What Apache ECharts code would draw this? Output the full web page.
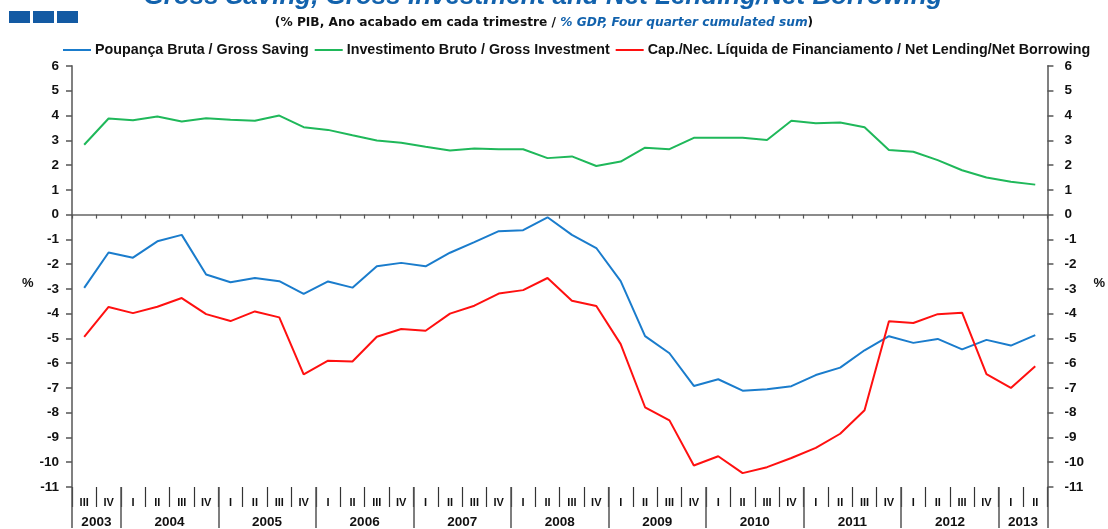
<!DOCTYPE html>
<html>
<head>
<meta charset="utf-8">
<script src="https://cdn.jsdelivr.net/npm/echarts@6/dist/echarts.min.js"></script>
<style>
  html, body { margin: 0; padding: 0; background: #fff; }
  #chart { width: 1108px; height: 529px; }
</style>
</head>
<body>
<div id="chart"></div>
<script>
// Quarterly labels, 2003 Q3 .. 2013 Q2
const quarterLabels = [
  'III','IV',
  'I','II','III','IV', 'I','II','III','IV', 'I','II','III','IV',
  'I','II','III','IV', 'I','II','III','IV', 'I','II','III','IV',
  'I','II','III','IV', 'I','II','III','IV', 'I','II','III','IV',
  'I','II'
];
// Years and how many quarters of each are shown
const yearNames = ['2003','2004','2005','2006','2007','2008','2009','2010','2011','2012','2013'];
const yearQuarterCounts = [2,4,4,4,4,4,4,4,4,4,2];

// % of GDP, four-quarter cumulated sum
const grossSaving = [
  -2.96,-1.53,-1.74,-1.08,-0.82,-2.42,-2.73,-2.56,-2.69,-3.20,
  -2.70,-2.95,-2.09,-1.95,-2.09,-1.54,-1.11,-0.67,-0.63,-0.11,
  -0.82,-1.35,-2.69,-4.91,-5.60,-6.92,-6.65,-7.11,-7.05,-6.93,
  -6.48,-6.18,-5.48,-4.91,-5.18,-5.02,-5.44,-5.06,-5.29,-4.87
];
const grossInvestment = [
  2.82,3.88,3.81,3.96,3.76,3.89,3.83,3.79,4.00,3.53,
  3.42,3.20,2.99,2.90,2.74,2.59,2.67,2.64,2.64,2.28,
  2.35,1.96,2.14,2.70,2.64,3.10,3.10,3.10,3.01,3.79,
  3.69,3.72,3.53,2.61,2.54,2.20,1.79,1.50,1.33,1.21
];
const netLending = [
  -4.94,-3.73,-3.98,-3.72,-3.37,-4.02,-4.30,-3.91,-4.15,-6.45,
  -5.90,-5.93,-4.93,-4.62,-4.69,-4.00,-3.68,-3.19,-3.05,-2.56,
  -3.48,-3.69,-5.23,-7.78,-8.31,-10.13,-9.76,-10.44,-10.20,-9.83,
  -9.42,-8.85,-7.90,-4.31,-4.38,-4.02,-3.96,-6.44,-7.00,-6.12
];

const seriesNames = [
  'Poupança Bruta / Gross Saving',
  'Investimento Bruto / Gross Investment',
  'Cap./Nec. Líquida de Financiamento / Net Lending/Net Borrowing'
];
const seriesColors = ['#1a7ccc', '#1fb85a', '#ff1010'];

// Boundary axis (one slot per quarter edge) used for year labels and year separators
const nQ = quarterLabels.length;
const boundarySlots = new Array(nQ + 1).fill('');
const yearStartEdges = new Set([nQ]);
let edge = 0;
yearNames.forEach((y, k) => {
  yearStartEdges.add(edge);
  boundarySlots[edge + yearQuarterCounts[k] / 2] = y;
  edge += yearQuarterCounts[k];
});

const FONT = 'Liberation Sans, Arial, sans-serif';
const WIDE = 'DejaVu Sans, Liberation Sans, sans-serif';
const axisGray = '#808080';

const chart = echarts.init(document.getElementById('chart'), null, { renderer: 'canvas' });

const valueAxisBase = {
  type: 'value',
  min: -11, max: 6, interval: 1,
  splitLine: { show: false },
  axisLine: { show: true, lineStyle: { color: axisGray, width: 2 } },
  axisTick: { show: true, length: 6, lineStyle: { color: '#555', width: 1.5 } },
  axisLabel: { color: '#111', fontFamily: FONT, fontWeight: 'bold', fontSize: 13.5 },
  name: '%',
  nameLocation: 'middle',
  nameRotate: 0,
  nameTextStyle: { color: '#111', fontFamily: FONT, fontWeight: 'bold', fontSize: 13, verticalAlign: 'top' }
};

chart.setOption({
  animation: false,
  backgroundColor: '#fff',
  title: [
    {
      text: 'Gross Saving, Gross Investment and Net Lending/Net Borrowing',
      left: 538, textAlign: 'center', top: -21,
      textStyle: { color: '#1262ad', fontFamily: FONT, fontWeight: 'bold', fontStyle: 'italic', fontSize: 26 }
    },
    {
      text: '{a|(% PIB, Ano acabado em cada trimestre / }{b|% GDP, Four quarter cumulated sum}{a|)}',
      left: 539, textAlign: 'center', top: 12,
      textStyle: {
        rich: {
          a: { color: '#111', fontFamily: WIDE, fontWeight: 'bold', fontSize: 12.2 },
          b: { color: '#1262ad', fontFamily: WIDE, fontWeight: 'bold', fontStyle: 'italic', fontSize: 12.2 }
        }
      }
    }
  ],
  graphic: [
    { type: 'rect', shape: { x: 9, y: 11, width: 21, height: 12 }, style: { fill: '#135aa3' } },
    { type: 'rect', shape: { x: 33, y: 11, width: 21, height: 12 }, style: { fill: '#135aa3' } },
    { type: 'rect', shape: { x: 57, y: 11, width: 21, height: 12 }, style: { fill: '#135aa3' } }
  ],
  legend: {
    top: 38, left: 58,
    itemWidth: 28, itemHeight: 2, itemGap: 6,
    icon: 'rect',
    textStyle: { color: '#111', fontFamily: FONT, fontWeight: 'bold', fontSize: 14.3, padding: [0, 0, 0, -1] },
    data: seriesNames
  },
  grid: { left: 72, right: 52, top: 66, bottom: 41, containLabel: false },
  xAxis: [
    {
      // zero line with quarter ticks
      type: 'category', data: quarterLabels, position: 'bottom',
      boundaryGap: true,
      axisLine: { show: true, onZero: true, lineStyle: { color: '#666', width: 1.5 } },
      axisTick: { show: true, interval: 0, length: 4, lineStyle: { color: '#555', width: 1.2 } },
      axisLabel: { show: false },
      splitLine: { show: false }
    },
    {
      // quarter row
      type: 'category', data: quarterLabels, position: 'bottom', offset: 0,
      boundaryGap: true,
      axisLine: { show: false, onZero: false },
      axisTick: { show: true, interval: 0, length: 20, lineStyle: { color: '#333', width: 1.2 } },
      axisLabel: { show: true, interval: 0, margin: 10, color: '#111', fontFamily: FONT, fontWeight: 'bold', fontSize: 11 },
      splitLine: { show: false }
    },
    {
      // year row
      type: 'category', data: boundarySlots, position: 'bottom', offset: 0,
      boundaryGap: false,
      axisLine: { show: false, onZero: false },
      axisTick: { show: true, length: 41, interval: (i) => yearStartEdges.has(i), lineStyle: { color: '#555', width: 1.5 } },
      axisLabel: { show: true, interval: (i, v) => v !== '', margin: 28, color: '#111', fontFamily: FONT, fontWeight: 'bold', fontSize: 13.5 },
      splitLine: { show: false }
    }
  ],
  yAxis: [
    Object.assign({}, valueAxisBase, { position: 'left', nameGap: 38, axisLabel: Object.assign({}, valueAxisBase.axisLabel, { margin: 13 }) }),
    Object.assign({}, valueAxisBase, { position: 'right', nameGap: 46, axisLabel: Object.assign({}, valueAxisBase.axisLabel, { margin: 17 }) })
  ],
  series: [
    { name: seriesNames[0], type: 'line', data: grossSaving, xAxisIndex: 0, yAxisIndex: 0, symbol: 'none', lineStyle: { width: 2, color: seriesColors[0] }, itemStyle: { color: seriesColors[0] } },
    { name: seriesNames[1], type: 'line', data: grossInvestment, xAxisIndex: 0, yAxisIndex: 0, symbol: 'none', lineStyle: { width: 2, color: seriesColors[1] }, itemStyle: { color: seriesColors[1] } },
    { name: seriesNames[2], type: 'line', data: netLending, xAxisIndex: 0, yAxisIndex: 0, symbol: 'none', lineStyle: { width: 2, color: seriesColors[2] }, itemStyle: { color: seriesColors[2] } }
  ]
});
</script>
</body>
</html>
